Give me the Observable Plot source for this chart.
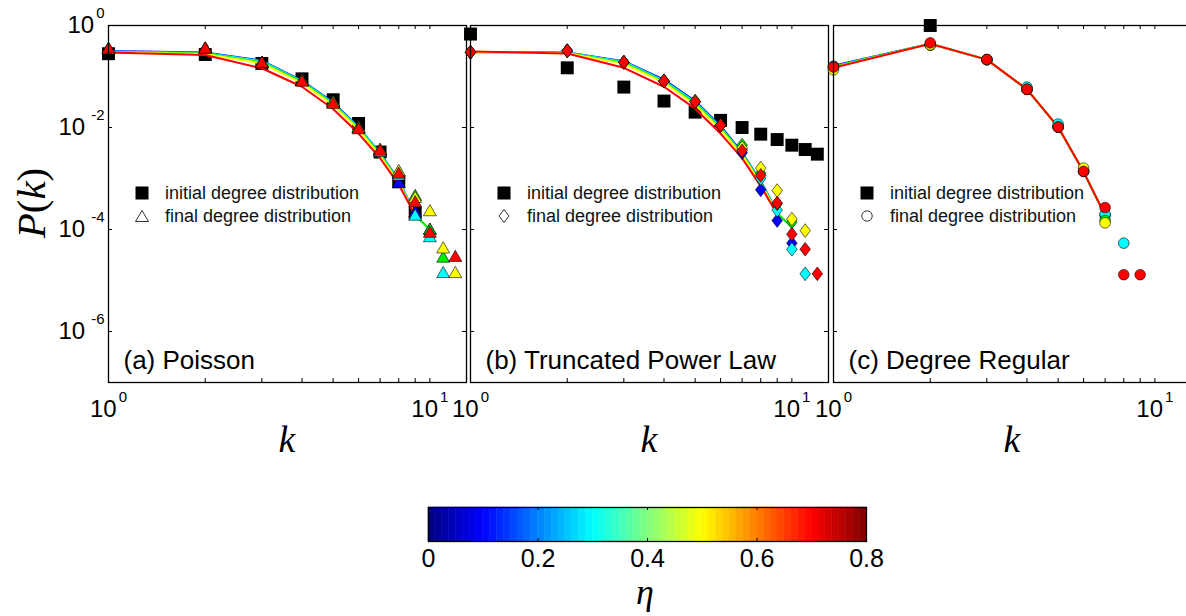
<!DOCTYPE html>
<html><head><meta charset="utf-8">
<script src="https://cdn.jsdelivr.net/npm/d3@7"></script>
<script src="https://cdn.jsdelivr.net/npm/@observablehq/plot@0.6"></script>
<style>
body{margin:0;background:#fff;overflow:hidden;}
#root{position:relative;width:1186px;height:616px;overflow:hidden;background:#fff;font-family:"Liberation Sans",Arial,sans-serif;}
.leg{position:absolute;font-size:18px;color:#111;white-space:nowrap;line-height:1;}
</style></head><body><div id="root"></div><script>
// ---------- data ----------
const etaValues = [0.1, 0.3, 0.4, 0.5, 0.7];
const etaColors = ["#0000ff", "#00ffff", "#00ee00", "#ffff00", "#ff0000"];
const panelTitles = ["(a) Poisson", "(b) Truncated Power Law", "(c) Degree Regular"];
const legendLabels = ["initial degree distribution", "final degree distribution"];
const xMajorTicks = [1, 10];
const xMinorTicks = [2, 3, 4, 5, 6, 7, 8, 9];
const yTicks = [1, 1e-2, 1e-4, 1e-6];
const colorbarTicks = [0, 0.2, 0.4, 0.6, 0.8];
const colorbarInnerTicks = [0.2, 0.4, 0.6];

// P(k) for k = 1, 2, 3, ...  (rows: eta = 0.1, 0.3, 0.4, 0.5, 0.7)
const poissonInitial = [0.28, 0.27, 0.18, 0.090, 0.035, 0.012, 0.0033, 8.6e-4, 2.1e-4];
const poissonLines = [
  [0.316, 0.295, 0.204, 0.083, 0.031, 0.0102, 0.00316, 9.3e-4, 2.0e-4],
  [0.309, 0.288, 0.200, 0.081, 0.030, 0.0100, 0.0031, 9.1e-4, 2.0e-4],
  [0.302, 0.282, 0.191, 0.078, 0.029, 0.0095, 0.0030, 8.7e-4, 1.9e-4, 1.0e-4],
  [0.295, 0.275, 0.182, 0.074, 0.0275, 0.0091, 0.0028, 8.3e-4, 1.9e-4],
  [0.295, 0.263, 0.145, 0.063, 0.023, 0.0076, 0.0025, 7.6e-4, 1.9e-4]
];
const poissonFinal = [
  [0.33, 0.34, 0.18, 0.079, 0.030, 0.0095, 0.0033, 7.9e-4, 2.1e-4, 9.5e-5],
  [0.33, 0.34, 0.18, 0.079, 0.030, 0.0095, 0.0032, 1.1e-3, 1.8e-4, 6.8e-5, 1.35e-5],
  [0.33, 0.34, 0.18, 0.079, 0.030, 0.0095, 0.0035, 1.3e-3, 4.4e-4, 9.5e-5, 2.7e-5],
  [0.33, 0.34, 0.18, 0.079, 0.030, 0.0093, 0.0035, 1.35e-3, 4.0e-4, 2.2e-4, 4.1e-5, 1.35e-5],
  [0.34, 0.34, 0.178, 0.076, 0.028, 0.0089, 0.0034, 1.2e-3, 3.3e-4, 8.3e-5, null, 2.8e-5]
];

const truncInitial = [0.68, 0.148, 0.062, 0.033, 0.020, 0.0138, 0.0100, 0.0074, 0.0058, 0.0045, 0.0037, 0.0030];
const truncLines = [
  [0.302, 0.295, 0.200, 0.087, 0.033, 0.0107, 0.0032, 8.9e-4, 2.2e-4],
  [0.300, 0.292, 0.195, 0.083, 0.0316, 0.0102, 0.0031, 8.7e-4, 2.2e-4],
  [0.298, 0.288, 0.186, 0.079, 0.030, 0.0098, 0.0030, 8.3e-4, 2.1e-4, 1.1e-4],
  [0.295, 0.285, 0.178, 0.076, 0.028, 0.0091, 0.0029, 7.9e-4, 2.1e-4],
  [0.309, 0.282, 0.148, 0.063, 0.0234, 0.0076, 0.0025, 7.1e-4, 2.0e-4]
];
const truncFinal = [
  [0.30, 0.32, 0.19, 0.081, 0.032, 0.011, 0.0032, 6.0e-4, 1.5e-4, 5.4e-5],
  [0.30, 0.32, 0.19, 0.081, 0.032, 0.011, 0.0038, 1.0e-3, 2.4e-4, 4.1e-5, 1.35e-5],
  [0.30, 0.32, 0.19, 0.081, 0.032, 0.011, 0.0045, 1.26e-3, 3.2e-4, 1.4e-4],
  [0.30, 0.32, 0.19, 0.083, 0.033, 0.011, 0.0040, 1.6e-3, 5.8e-4, 1.6e-4, 9.5e-5],
  [0.30, 0.32, 0.19, 0.081, 0.032, 0.011, 0.0035, 1.15e-3, 3.3e-4, 8.1e-5, 4.1e-5, 1.35e-5]
];

const regularInitial = [null, 1.0];
const regularLines = [
  [0.162, 0.437, 0.214, 0.056, 0.0102, 0.00135, 1.9e-4],
  [0.158, 0.437, 0.214, 0.056, 0.0102, 0.00135, 1.9e-4],
  [0.155, 0.437, 0.214, 0.056, 0.0102, 0.00135, 1.9e-4],
  [0.151, 0.437, 0.214, 0.056, 0.0102, 0.00135, 1.9e-4],
  [0.148, 0.437, 0.214, 0.056, 0.0102, 0.00135, 1.9e-4]
];
const regularFinal = [
  [0.158, 0.417, 0.214, 0.056, 0.0102, 0.00138, 1.9e-4],
  [0.158, 0.417, 0.214, 0.062, 0.0117, 0.00138, 2.0e-4, 5.4e-5],
  [0.148, 0.417, 0.214, 0.056, 0.0102, 0.00138, 1.5e-4],
  [0.135, 0.417, 0.214, 0.056, 0.0102, 0.0016, 1.35e-4],
  [0.153, 0.457, 0.216, 0.056, 0.0102, 0.00138, 2.7e-4, 1.3e-5, 1.3e-5]
];

// ---------- helpers ----------
const NS = "http://www.w3.org/2000/svg";
const root = document.getElementById("root");
const FW = 358, FH = 357, TOP = 25;
const panelLefts = [108, 470, 833];

function series(values) {
  const out = [];
  values.forEach((p, i) => { if (p != null) out.push({k: i + 1, p}); });
  return out;
}
function tidy(matrix) {
  const out = [];
  matrix.forEach((row, s) => row.forEach((p, i) => { if (p != null) out.push({k: i + 1, p, eta: etaValues[s], s}); }));
  return out;
}
function place(el, left, top) {
  el.style.position = "absolute";
  el.style.left = left + "px";
  el.style.top = top + "px";
  root.appendChild(el);
}
function superscriptify(svg) {
  svg.querySelectorAll('g[aria-label$="tick label"] text').forEach(t => {
    const m = t.textContent.match(/^10\^(.+)$/);
    if (!m) return;
    t.textContent = "";
    const a = document.createElementNS(NS, "tspan");
    a.textContent = "10";
    const b = document.createElementNS(NS, "tspan");
    b.textContent = m[1];
    b.setAttribute("dy", "-15");
    b.setAttribute("dx", m[1].startsWith("-") ? "6" : "2");
    b.setAttribute("font-size", "15");
    t.append(a, b);
  });
}
const diamond = {
  draw(ctx, size) {
    const hw = Math.sqrt(size / 2.6), hh = 1.3 * hw;
    ctx.moveTo(0, -hh); ctx.lineTo(hw, 0); ctx.lineTo(0, hh); ctx.lineTo(-hw, 0); ctx.closePath();
  }
};
const logFormat = d => `10^${Math.round(Math.log10(d))}`;

const panels = [
  {initial: poissonInitial, lines: poissonLines, finals: poissonFinal, symbol: "triangle", r: 4.8, legendSym: "triangle"},
  {initial: truncInitial, lines: truncLines, finals: truncFinal, symbol: diamond, r: 4.8, legendSym: "diamond"},
  {initial: regularInitial, lines: regularLines, finals: regularFinal, symbol: "circle", r: 5.3, legendSym: "circle"}
];

panels.forEach((p, idx) => {
  const mL = idx === 0 ? 108 : 14, mR = 14, mB = 85;
  const marks = [
    Plot.dot(series(p.initial), {x: "k", y: "p", symbol: "square", r: 7.3, fill: "black", stroke: "none"}),
    Plot.line(tidy(p.lines), {x: "k", y: "p", z: "eta", stroke: "eta", strokeWidth: 2}),
    Plot.dot(tidy(p.finals), {x: "k", y: "p", symbol: p.symbol, r: p.r, fill: "eta", stroke: "black", strokeWidth: 0.6}),
    Plot.frame({stroke: "black", strokeWidth: 1.3}),
    Plot.ruleX(xMinorTicks.concat(xMajorTicks), {insetTop: FH - 4, stroke: "black", strokeWidth: 1}),
    Plot.ruleX(xMinorTicks.concat(xMajorTicks), {insetBottom: FH - 4, stroke: "black", strokeWidth: 1}),
    Plot.ruleY(yTicks, {insetRight: FW - 4, stroke: "black", strokeWidth: 1}),
    Plot.ruleY(yTicks, {insetLeft: FW - 4, stroke: "black", strokeWidth: 1}),
    Plot.axisX({ticks: xMajorTicks, tickFormat: logFormat, tickSize: 0, tickPadding: 17, fontSize: 24, label: null}),
    Plot.text([panelTitles[idx]], {frameAnchor: "bottom-left", dx: 15, dy: -14, textAnchor: "start", lineAnchor: "bottom", fontSize: 26, fill: "black"})
  ];
  if (idx === 0) marks.push(Plot.axisY({ticks: yTicks, tickFormat: logFormat, tickSize: 0, tickPadding: 4, fontSize: 24, label: null}));
  const svg = Plot.plot({
    width: mL + FW + mR,
    height: TOP + FH + mB,
    marginLeft: mL, marginRight: mR, marginTop: TOP, marginBottom: mB,
    x: {type: "log", domain: [1, 13], axis: null},
    y: {type: "log", domain: [1e-7, 1], axis: null},
    color: {domain: etaValues, range: etaColors},
    style: {background: "transparent", color: "black", fontFamily: "'Liberation Sans', Arial, sans-serif", overflow: "visible"},
    marks
  });
  superscriptify(svg);
  place(svg, panelLefts[idx] - mL, 0);

  // legend
  const L = panelLefts[idx];
  const sym = {
    triangle: '<polygon points="7,1.5 13.5,12.5 0.5,12.5" fill="white" stroke="black" stroke-width="0.8"/>',
    diamond: '<polygon points="7,0.5 12,7 7,13.5 2,7" fill="white" stroke="black" stroke-width="0.8"/>',
    circle: '<circle cx="7" cy="7" r="5.2" fill="white" stroke="black" stroke-width="0.8"/>'
  }[p.legendSym];
  [['<rect x="0.5" y="0.5" width="13" height="13" fill="black"/>', legendLabels[0], 193],
   [sym, legendLabels[1], 215.5]].forEach(([s, text, cy]) => {
    const box = document.createElement("div");
    box.innerHTML = `<svg width="14" height="14" viewBox="0 0 14 14">${s}</svg>`;
    box.style.lineHeight = "0";
    place(box, L + 27, cy - 7);
    const t = document.createElement("div");
    t.className = "leg"; t.textContent = text;
    t.style.transform = "translateY(-50%)";
    place(t, L + 57, cy);
  });
});

// ---------- colorbar ----------
function jet(t) {
  const c = v => Math.max(0, Math.min(1, v));
  const r = c(1.5 - Math.abs(4 * t - 3)), g = c(1.5 - Math.abs(4 * t - 2)), b = c(1.5 - Math.abs(4 * t - 1));
  return `rgb(${Math.round(r * 255)},${Math.round(g * 255)},${Math.round(b * 255)})`;
}
const nBins = 64;
const cbBins = d3.range(nBins).map(i => ({x1: i * 0.8 / nBins, x2: (i + 1) * 0.8 / nBins, v: (i + 0.5) * 0.8 / nBins}));
const CBW = 438, CBH = 34, cbML = 30, cbMT = 6;
const cb = Plot.plot({
  width: CBW + 2 * cbML, height: cbMT + CBH + 50,
  marginLeft: cbML, marginRight: cbML, marginTop: cbMT, marginBottom: 50,
  x: {domain: [0, 0.8], axis: null},
  color: {type: "linear", domain: [0, 0.8], interpolate: jet},
  style: {background: "transparent", color: "black", fontFamily: "'Liberation Sans', Arial, sans-serif", overflow: "visible"},
  marks: [
    Plot.rect(cbBins, {x1: "x1", x2: "x2", fill: "v", stroke: "v", strokeWidth: 0.5}),
    Plot.frame({stroke: "black", strokeWidth: 1.3}),
    Plot.ruleX(colorbarInnerTicks, {insetTop: CBH - 3, stroke: "black"}),
    Plot.ruleX(colorbarInnerTicks, {insetBottom: CBH - 3, stroke: "black"}),
    Plot.axisX({ticks: colorbarTicks, tickFormat: d => String(d), tickSize: 0, tickPadding: 8, fontSize: 25, label: null})
  ]
});
place(cb, 427.7 - cbML, 507.3 - cbMT);

// ---------- axis titles (math italic) ----------
const ov = document.createElementNS(NS, "svg");
ov.setAttribute("width", 1186); ov.setAttribute("height", 616);
ov.style.pointerEvents = "none";
const serif = "'Liberation Serif','Times New Roman',serif";
ov.innerHTML = panelLefts.map(L =>
  `<text x="${L + FW / 2}" y="452" text-anchor="middle" font-family="${serif}" font-style="italic" font-size="38">k</text>`).join("") +
  `<text transform="translate(45,203) rotate(-90)" text-anchor="middle" font-family="${serif}" font-size="41"><tspan font-style="italic">P</tspan><tspan>(</tspan><tspan font-style="italic">k</tspan><tspan>)</tspan></text>` +
  `<text x="645" y="604" text-anchor="middle" font-family="${serif}" font-style="italic" font-size="36">η</text>`;
place(ov, 0, 0);
</script></body></html>
